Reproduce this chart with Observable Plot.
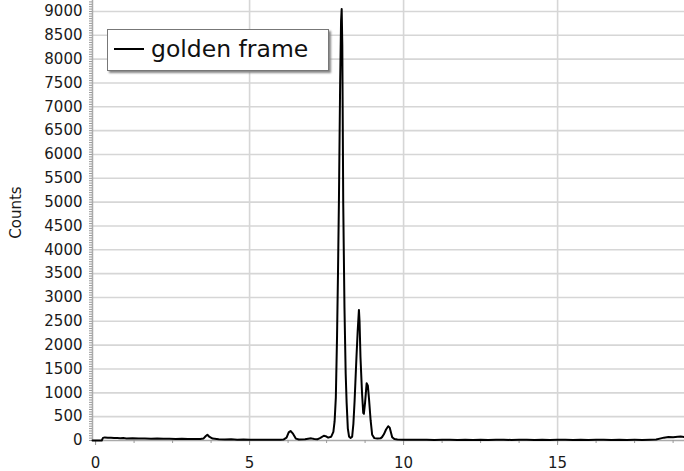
<!DOCTYPE html>
<html>
<head>
<meta charset="utf-8">
<script src="https://cdn.jsdelivr.net/npm/d3@7"></script>
<script src="https://cdn.jsdelivr.net/npm/@observablehq/plot@0.6"></script>
<style>
  html, body { margin: 0; padding: 0; background: #fff; }
  #wrap { position: relative; width: 684px; height: 471px; font-family: "DejaVu Sans", Verdana, sans-serif; }
  #legend { position: absolute; left: 107px; top: 29px; width: 220px; height: 40px; background: #fff;
            border: 1px solid #777; box-shadow: 2px 2px 2px #888; }
  #legend .sw { position: absolute; left: 6px; top: 18px; width: 30px; height: 2px; background: #000; }
  #legend .lb { position: absolute; left: 43px; top: 2px; font-size: 23.5px; color: #111; line-height: 34px; }
</style>
</head>
<body>
<div id="wrap"></div>
<script>
// ---- data ----
const seriesName = "golden frame";
const yLabel = "Counts";
const xDomain = [-0.1, 19.12];
const yDomain = [0, 9230];
const xTickLabels = [0, 5, 10, 15];
const yTickLabels = [0, 500, 1000, 1500, 2000, 2500, 3000, 3500, 4000, 4500, 5000, 5500, 6000, 6500, 7000, 7500, 8000, 8500, 9000];

const energy = [
  -0.1, 0.0, 0.1, 0.2, 0.24, 0.3, 0.4, 0.5, 0.6, 0.7, 0.8, 0.9, 1.0, 1.2, 1.4, 1.6, 1.8, 2.0, 2.2, 2.4, 2.6, 2.8, 3.0, 3.2, 3.4, 3.5,
  3.58, 3.63, 3.7, 3.8, 4.0, 4.2, 4.4, 4.6, 4.8, 5.0, 5.2, 5.4, 5.6, 5.8, 6.0, 6.1, 6.2, 6.27, 6.33, 6.4, 6.5, 6.6, 6.8, 6.95, 7.0, 7.1,
  7.2, 7.3, 7.41, 7.47, 7.55, 7.65, 7.72, 7.76, 7.8, 7.84, 7.87, 7.9, 7.94, 7.97, 7.99, 8.01, 8.04, 8.08, 8.12, 8.15, 8.19, 8.23, 8.28,
  8.33, 8.37, 8.41, 8.47, 8.51, 8.55, 8.57, 8.6, 8.65, 8.69, 8.71, 8.75, 8.8, 8.84, 8.88, 8.93, 8.98, 9.05, 9.15, 9.25, 9.3, 9.36, 9.43,
  9.5, 9.55, 9.63, 9.7, 9.8, 10.0, 10.25, 10.5, 10.75, 11.0, 11.25, 11.5, 11.75, 12.0, 12.25, 12.5, 12.75, 13.0, 13.25, 13.5, 13.75,
  14.0, 14.25, 14.5, 14.75, 15.0, 15.25, 15.5, 15.75, 16.0, 16.25, 16.5, 16.75, 17.0, 17.25, 17.5, 17.75, 18.0, 18.2, 18.35, 18.45,
  18.6, 18.75, 18.9, 19.0, 19.12
];
const counts = [
  0, 0, 0, 0, 55, 65, 60, 58, 55, 52, 48, 50, 44, 46, 40, 42, 38, 40, 35, 38, 34, 36, 30, 33, 30, 40,
  95, 120, 75, 40, 28, 22, 25, 18, 20, 15, 18, 15, 14, 16, 15, 20, 60, 170, 200, 150, 40, 20, 25, 40, 45, 30,
  25, 55, 100, 90, 60, 80, 180, 400, 900, 2200, 3500, 5000, 7500, 8800, 9050, 8300, 5000, 2800, 1400, 800, 250, 80, 55,
  80, 350, 840, 1750, 2300, 2740, 2500, 1750, 1000, 580, 560, 800, 1200, 1150, 850, 420, 120, 50, 40, 45, 70, 130, 230,
  300, 270, 70, 30, 20, 15, 18, 14, 16, 12, 15, 14, 12, 15, 13, 16, 12, 14, 15, 12, 14,
  18, 13, 15, 12, 16, 14, 12, 15, 13, 14, 16, 12, 15, 13, 14, 12, 15, 20, 45, 60,
  75, 70, 78, 82, 75
];

const data = energy.map((e, i) => ({ e, c: counts[i] }));

const font = 15;
const chart = Plot.plot({
  width: 684,
  height: 471,
  marginLeft: 92,
  marginRight: 0,
  marginTop: 0,
  marginBottom: 31,
  style: { fontFamily: '"DejaVu Sans", Verdana, sans-serif', fontSize: font + "px", color: "#1a1a1a", background: "#fff" },
  x: { domain: xDomain, label: null },
  y: { domain: yDomain, label: null },
  marks: [
    Plot.gridY(yTickLabels.filter(d => d > 0), { stroke: "#d6d6d6", strokeOpacity: 1, strokeWidth: 1.6 }),
    Plot.gridX(xTickLabels.filter(d => d > 0), { stroke: "#d6d6d6", strokeOpacity: 1, strokeWidth: 1.6 }),
    // axis lines
    Plot.ruleX([xDomain[0]], { stroke: "#aaa", strokeWidth: 1.5 }),
    Plot.ruleY([yDomain[0]], { stroke: "#aaa", strokeWidth: 1.5 }),
    // minor ticks
    Plot.axisY(d3.range(0, 9201, 50), { tickSize: 3, text: null, stroke: "#999", label: null }),
    Plot.axisX(d3.range(0, 19.1, 1.25), { tickSize: 3, text: null, stroke: "#999", label: null }),
    Plot.axisX(xTickLabels, { tickSize: 5, text: null, stroke: "#999", label: null }),
    // tick labels
    Plot.axisY(yTickLabels, { tickSize: 0, tickPadding: 10, fontSize: font, label: null, tickFormat: d => String(d) }),
    Plot.axisX(xTickLabels, { tickSize: 0, tickPadding: 17, fontSize: font, label: null, tickFormat: d => String(d) }),
    Plot.text([yLabel], { frameAnchor: "left", dx: -76, dy: -8, rotate: -90, textAnchor: "middle", lineAnchor: "middle", fontSize: 15, fill: "#1a1a1a" }),
    // the series
    Plot.line(data, { x: "e", y: "c", stroke: "#000", strokeWidth: 2, strokeLinejoin: "round" })
  ]
});

const wrap = document.getElementById("wrap");
wrap.appendChild(chart);
const lg = document.createElement("div");
lg.id = "legend";
lg.innerHTML = '<div class="sw"></div><div class="lb"></div>';
lg.querySelector(".lb").textContent = seriesName;
wrap.appendChild(lg);
</script>
</body>
</html>
